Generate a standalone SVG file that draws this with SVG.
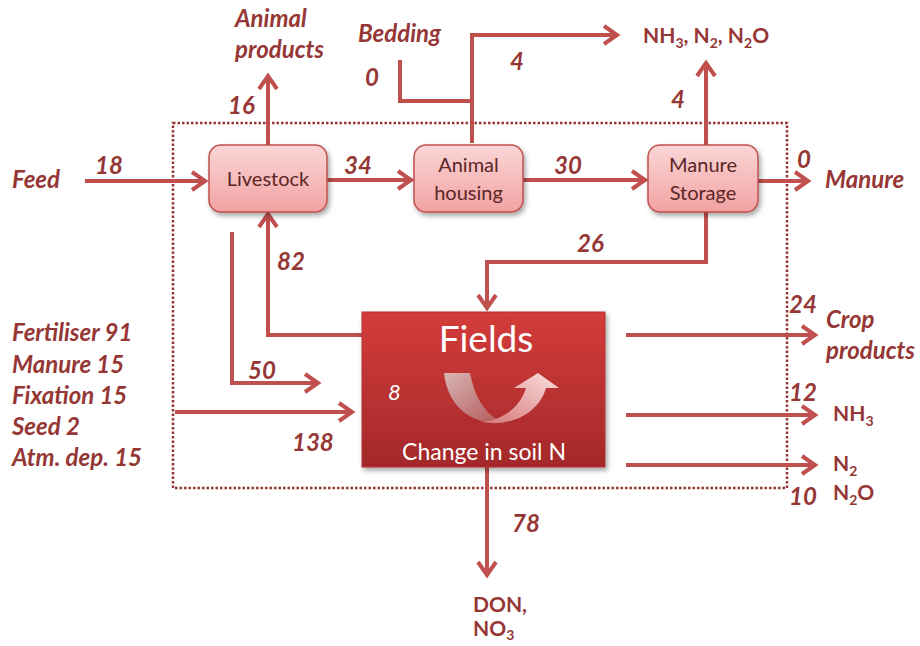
<svg xmlns="http://www.w3.org/2000/svg" width="920" height="646" viewBox="0 0 920 646">
<defs>
<style>
.lbl{font-family:Lato,"Liberation Sans",sans-serif;font-weight:bold;font-style:italic;font-size:24px;fill:#953735}
.chem{font-family:Lato,"Liberation Sans",sans-serif;font-weight:bold;font-size:21px;fill:#953735}
.ntxt{font-family:Lato,"Liberation Sans",sans-serif;font-size:20px;fill:#5a2626;text-anchor:middle}
.conn{fill:none;stroke:#c0504d;stroke-width:4;stroke-linejoin:miter}
.arr{marker-end:url(#ah)}
.node{fill:url(#ng);stroke:#c0504d;stroke-width:1.5}
</style>
<marker id="ah" markerUnits="userSpaceOnUse" markerWidth="26" markerHeight="26" refX="15" refY="11" orient="auto" overflow="visible">
<path d="M2,2 L15,11 L2,20" fill="none" stroke="#c0504d" stroke-width="4"/>
</marker>
<linearGradient id="ng" x1="0" y1="0" x2="0" y2="1">
<stop offset="0" stop-color="#fbd6d6"/>
<stop offset="1" stop-color="#f2a2a2"/>
</linearGradient>
<linearGradient id="fg" x1="0" y1="0" x2="0" y2="1">
<stop offset="0" stop-color="#d43c3a"/>
<stop offset="1" stop-color="#a3282a"/>
</linearGradient>
<linearGradient id="ag1" x1="0" y1="0" x2="1" y2="1">
<stop offset="0" stop-color="#ddc4c4"/>
<stop offset="1" stop-color="#b05a5a"/>
</linearGradient>
<linearGradient id="ag2" x1="0" y1="1" x2="1" y2="0">
<stop offset="0" stop-color="#d87a7a"/>
<stop offset="1" stop-color="#fde8e8"/>
</linearGradient>
<filter id="sh" x="-10%" y="-10%" width="130%" height="130%">
<feDropShadow dx="2" dy="3" stdDeviation="2.5" flood-color="#000" flood-opacity="0.35"/>
</filter>
</defs>
<rect width="920" height="646" fill="#fff"/>

<rect id="boundary" x="173" y="123" width="614" height="365" fill="none" stroke="#953735" stroke-width="2.5" stroke-dasharray="2.5,2"/>

<g id="connectors">
<path class="conn arr" d="M85,181 L205,181"/>
<path class="conn arr" d="M268,145 L268,76"/>
<path class="conn arr" d="M327,180 L411,180"/>
<path class="conn arr" d="M523,180 L645,180"/>
<path class="conn arr" d="M758,181 L808,181"/>
<path class="conn arr" d="M706,145 L706,63"/>
<path class="conn arr" d="M472,143 L472,35 L617,35"/>
<path class="conn" d="M400,60 L400,101 L472,101"/>
<path class="conn arr" d="M706,212 L706,262 L487,262 L487,308"/>
<path class="conn arr" d="M362,335 L268,335 L268,214"/>
<path class="conn arr" d="M232,232 L232,383 L318,383"/>
<path class="conn arr" d="M175,412 L352,412"/>
<path class="conn arr" d="M626,335 L815,335"/>
<path class="conn arr" d="M626,415 L815,415"/>
<path class="conn arr" d="M626,465 L815,465"/>
<path class="conn arr" d="M487,467 L487,575"/>
</g>

<g id="livestock">
<rect class="node" x="209" y="145" width="118" height="67" rx="12" filter="url(#sh)"/>
<text class="ntxt" x="268" y="186">Livestock</text>
</g>
<g id="animal-housing">
<rect class="node" x="414" y="145" width="109" height="67" rx="12" filter="url(#sh)"/>
<text class="ntxt" x="468.5" y="172">Animal</text>
<text class="ntxt" x="468.5" y="200">housing</text>
</g>
<g id="manure-storage">
<rect class="node" x="648" y="145" width="110" height="67" rx="12" filter="url(#sh)"/>
<text class="ntxt" x="703" y="172">Manure</text>
<text class="ntxt" x="703" y="200">Storage</text>
</g>
<g id="fields">
<rect x="362" y="312" width="243" height="155" fill="url(#fg)" stroke="#b23432" stroke-width="1" filter="url(#sh)"/>
<text x="486" y="352" font-family="Lato,'Liberation Sans',sans-serif" font-size="37" fill="#fff" text-anchor="middle">Fields</text>
<path d="M444,373 L470,373 C475,399 487,417 505,423 C476,426 448,410 444,373 Z" fill="url(#ag1)" opacity="0.9"/>
<path d="M482,422 C506,419 521,405 526,388 L514,388 L538,373 L559,388 L546,388 C539,412 514,427 482,422 Z" fill="url(#ag2)" opacity="0.95"/>
<text x="388" y="400" font-family="Lato,'Liberation Sans',sans-serif" font-style="italic" font-size="22" fill="#fff">8</text>
<text x="484" y="460" font-family="Lato,'Liberation Sans',sans-serif" font-size="23" fill="#fff" text-anchor="middle">Change in soil N</text>
</g>

<g id="labels">
<text class="lbl" x="12" y="188">Feed</text>
<text class="lbl" x="95" y="174">18</text>
<text class="lbl" x="235" y="27">Animal</text>
<text class="lbl" x="235" y="58">products</text>
<text class="lbl" x="228" y="114">16</text>
<text class="lbl" x="358" y="42">Bedding</text>
<text class="lbl" x="365" y="86">0</text>
<text class="lbl" x="510" y="70">4</text>
<text class="lbl" x="671" y="108">4</text>
<text class="chem" x="643" y="43">NH<tspan dy="5" font-size="14">3</tspan><tspan dy="-5">, N</tspan><tspan dy="5" font-size="14">2</tspan><tspan dy="-5">, N</tspan><tspan dy="5" font-size="14">2</tspan><tspan dy="-5">O</tspan></text>
<text class="lbl" x="344" y="174">34</text>
<text class="lbl" x="554" y="174">30</text>
<text class="lbl" x="797" y="168">0</text>
<text class="lbl" x="825" y="188">Manure</text>
<text class="lbl" x="577" y="252">26</text>
<text class="lbl" x="277" y="270">82</text>
<text class="lbl" x="248" y="379">50</text>
<text class="lbl" x="292" y="451">138</text>
<text class="lbl" x="12" y="341">Fertiliser 91</text>
<text class="lbl" x="12" y="373">Manure 15</text>
<text class="lbl" x="12" y="404">Fixation 15</text>
<text class="lbl" x="12" y="435">Seed 2</text>
<text class="lbl" x="12" y="466">Atm. dep. 15</text>
<text class="lbl" x="789" y="313">24</text>
<text class="lbl" x="826" y="328">Crop</text>
<text class="lbl" x="826" y="359">products</text>
<text class="lbl" x="789" y="401">12</text>
<text class="chem" x="833" y="421">NH<tspan dy="5" font-size="14">3</tspan></text>
<text class="chem" x="833" y="471">N<tspan dy="5" font-size="14">2</tspan></text>
<text class="lbl" x="789" y="505">10</text>
<text class="chem" x="833" y="500">N<tspan dy="5" font-size="14">2</tspan><tspan dy="-5">O</tspan></text>
<text class="lbl" x="512" y="532">78</text>
<text class="chem" x="473" y="612">DON,</text>
<text class="chem" x="473" y="636">NO<tspan dy="4" font-size="14">3</tspan></text>
</g>
</svg>
